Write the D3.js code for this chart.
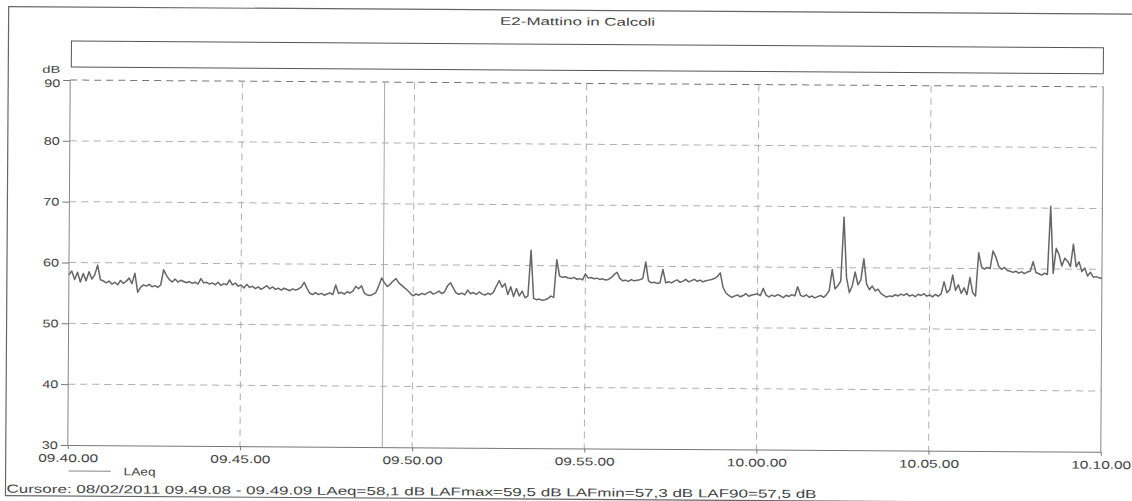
<!DOCTYPE html>
<html>
<head>
<meta charset="utf-8">
<script src="https://cdn.jsdelivr.net/npm/d3@7"></script>
<style>
  body { margin: 0; background: #fff; }
  text { font-family: "Liberation Sans", Arial, sans-serif; fill: #444; }
</style>
</head>
<body>
<div id="chart"></div>
<script>
// LAeq, one value every 5 s, one array per 5 minutes
const laeq0940 = [58.0,58.6,57.2,58.4,56.8,58.2,57.0,58.5,57.3,58.0,59.6,57.2,57.0,56.7,57.0,56.5,56.8,56.4,57.1,56.6,
  57.0,57.5,56.6,58.3,55.2,56.0,56.4,56.2,56.5,56.1,56.3,56.0,56.4,58.9,58.0,57.3,56.9,57.4,56.9,57.2,
  57.0,56.8,57.0,56.7,56.9,56.6,57.5,56.8,56.9,56.6,56.8,56.5,56.9,56.4,56.7,56.5,57.3,56.5,56.8,56.3];
const laeq0945 = [56.5,56.0,56.6,56.1,56.3,55.9,56.2,55.8,56.1,56.4,55.9,56.2,55.8,56.0,55.7,56.0,55.8,55.6,55.9,55.7,
  55.9,56.2,57.0,56.0,55.2,55.0,55.3,55.0,55.2,54.9,55.1,55.3,55.0,56.6,55.2,55.4,55.1,55.5,55.3,55.6,
  56.4,56.0,56.5,55.3,55.0,54.9,55.1,55.4,56.5,57.8,57.0,56.4,56.8,57.3,57.7,57.0,56.6,56.2,55.8,55.3];
const laeq0950 = [54.9,55.2,55.0,55.3,55.1,55.4,55.6,55.2,55.4,55.7,55.3,55.6,56.6,57.1,56.2,55.4,55.2,55.4,55.1,55.9,
  55.3,55.5,55.2,55.6,55.3,55.1,55.4,55.2,55.6,56.6,57.5,56.4,57.0,55.2,56.5,54.9,56.2,55.0,55.8,54.7,
  55.0,62.5,54.6,54.4,54.5,54.3,54.4,54.6,55.0,54.8,61.0,58.3,58.1,58.2,58.0,57.9,58.1,57.8,57.9,57.7];
const laeq0955 = [58.7,58.0,58.1,57.9,58.0,57.8,57.9,57.7,57.8,58.1,58.6,59.0,58.0,57.6,57.7,57.5,57.8,57.6,57.7,57.8,
  58.0,60.7,57.6,57.3,57.4,57.2,57.3,59.5,57.3,57.5,57.3,57.6,57.8,57.4,57.6,57.9,57.5,57.7,57.9,57.6,
  57.8,57.5,57.7,57.8,57.9,58.1,58.4,59.0,56.6,55.7,55.3,55.0,55.2,55.4,55.1,55.3,55.6,55.2,55.4,55.5];
const laeq1000 = [55.6,55.3,56.5,55.4,55.1,55.4,55.2,55.5,55.3,55.0,55.4,55.2,55.5,55.3,56.8,55.4,55.2,55.5,55.1,55.3,
  55.0,55.2,55.4,55.1,55.5,56.2,59.7,56.5,57.0,57.8,68.3,58.4,55.9,57.0,59.3,57.2,58.0,61.5,57.3,56.4,
  57.0,56.2,56.5,55.8,55.5,55.2,55.4,55.3,55.6,55.4,55.7,55.5,55.8,55.4,55.6,55.3,55.7,55.5,55.8,55.4];
const laeq1005 = [55.6,55.3,55.7,55.4,55.8,57.8,56.0,56.5,58.9,56.4,57.3,55.9,56.8,55.7,58.5,56.0,55.5,62.6,60.3,59.9,
  60.2,60.0,62.9,61.9,60.4,59.9,60.2,59.7,59.6,59.4,59.6,59.3,59.5,59.2,59.5,59.6,61.2,59.4,59.2,59.0,
  59.3,59.1,70.3,59.3,63.4,62.4,60.5,61.8,61.3,60.4,64.1,60.4,61.2,59.6,60.2,58.9,59.5,58.7,58.8,58.6,58.5];

const yTicks = [30, 40, 50, 60, 70, 80, 90];
const chartTitle = "E2-Mattino in Calcoli";
const seriesName = "LAeq";
const cursorText = "Cursore: 08/02/2011 09.49.08 - 09.49.09  LAeq=58,1 dB  LAFmax=59,5 dB  LAFmin=57,3 dB  LAF90=57,5 dB";
const cursorTime = new Date(2011, 1, 8, 9, 49, 8);
const startTime = new Date(2011, 1, 8, 9, 40, 0);
const endTime = new Date(2011, 1, 8, 10, 10, 0);

const values = [].concat(laeq0940, laeq0945, laeq0950, laeq0955, laeq1000, laeq1005);
const data = values.map((v, i) => ({ t: new Date(+startTime + i * 5000), v: v }));

// set the dimensions and margins of the graph
const W = 1132, H = 501;
const margin = {top: 80, right: 30, bottom: 56, left: 69},
    width = 1102 - margin.left,
    height = 445 - margin.top;

const svg = d3.select("#chart")
  .append("svg")
    .attr("width", W)
    .attr("height", H);

// the scan is slightly tilted
const page = svg.append("g")
    .attr("transform", "rotate(0.38, 69, 262)");

// outer frame
page.append("rect")
    .attr("x", 7).attr("y", 7)
    .attr("width", 1150).attr("height", 489)
    .attr("fill", "none").attr("stroke", "#666").attr("stroke-width", 1.2);

page.append("text")
    .attr("x", 576).attr("y", 22)
    .attr("text-anchor", "middle")
    .attr("font-size", 11)
    .attr("textLength", 155).attr("lengthAdjust", "spacingAndGlyphs")
    .text(chartTitle);

// empty legend box
page.append("rect")
    .attr("x", 70).attr("y", 41)
    .attr("width", 1032).attr("height", 26)
    .attr("fill", "none").attr("stroke", "#555").attr("stroke-width", 1);

const g = page.append("g")
    .attr("transform", `translate(${margin.left},${margin.top})`);

const x = d3.scaleTime()
    .domain([startTime, endTime])
    .range([0, width]);

const y = d3.scaleLinear()
    .domain([30, 90])
    .range([height, 0]);

const xTicks = d3.timeMinute.every(5).range(startTime, new Date(+endTime + 1));

// grid
g.append("g").selectAll("line")
  .data(yTicks.slice(1))
  .join("line")
    .attr("x1", 0).attr("x2", width)
    .attr("y1", d => y(d)).attr("y2", d => y(d))
    .attr("stroke", d => d === 90 ? "#777" : "#b0b0b0")
    .attr("stroke-dasharray", "7,5");
g.append("g").selectAll("line")
  .data(xTicks.slice(1, -1))
  .join("line")
    .attr("x1", d => x(d)).attr("x2", d => x(d))
    .attr("y1", 0).attr("y2", height)
    .attr("stroke", "#b0b0b0")
    .attr("stroke-dasharray", "7,5");

// cursor
g.append("line")
    .attr("x1", x(cursorTime)).attr("x2", x(cursorTime))
    .attr("y1", 0).attr("y2", height)
    .attr("stroke", "#aaa").attr("stroke-width", 1);

// frame of the plot
g.append("line").attr("x1", width).attr("x2", width).attr("y1", 0).attr("y2", height)
    .attr("stroke", "#888");
g.append("line").attr("x1", 0).attr("x2", 0).attr("y1", 0).attr("y2", height)
    .attr("stroke", "#888");

// axes
const xAxis = g.append("g")
    .attr("transform", `translate(0, ${height})`)
    .call(d3.axisBottom(x).tickValues(xTicks).tickFormat(d3.timeFormat("%H.%M.%S")).tickSize(4).tickSizeOuter(0));
xAxis.select(".domain").attr("stroke", "#777");
xAxis.selectAll(".tick line").attr("stroke", "#777");
xAxis.selectAll("text")
    .attr("font-size", 11)
    .attr("dy", "0.9em")
    .attr("textLength", 60).attr("lengthAdjust", "spacingAndGlyphs")
    .style("fill", "#444");

const yAxis = g.append("g")
    .call(d3.axisLeft(y).tickValues(yTicks).tickSize(7).tickSizeOuter(0));
yAxis.select(".domain").remove();
yAxis.selectAll(".tick line").attr("stroke", "#777");
yAxis.selectAll("text")
    .attr("font-size", 11)
    .attr("x", -10)
    .attr("dy", d => d === 90 ? "0.6em" : "0.32em")
    .attr("textLength", 16).attr("lengthAdjust", "spacingAndGlyphs")
    .style("fill", "#444");

g.append("text")
    .attr("x", -10).attr("y", -7)
    .attr("text-anchor", "end")
    .attr("font-size", 10)
    .attr("textLength", 18).attr("lengthAdjust", "spacingAndGlyphs")
    .text("dB");

// the LAeq line
g.append("path")
    .datum(data)
    .attr("fill", "none")
    .attr("stroke", "#666")
    .attr("stroke-width", 1.5)
    .attr("stroke-linejoin", "round")
    .attr("d", d3.line().x(d => x(d.t)).y(d => y(d.v)));

// legend below
page.append("line")
    .attr("x1", 70).attr("x2", 112).attr("y1", 471).attr("y2", 471)
    .attr("stroke", "#888").attr("stroke-width", 1);
page.append("text")
    .attr("x", 125).attr("y", 475)
    .attr("font-size", 11)
    .attr("textLength", 32).attr("lengthAdjust", "spacingAndGlyphs")
    .text(seriesName);

page.append("text")
    .attr("x", 8).attr("y", 493)
    .attr("font-size", 11.5)
    .attr("textLength", 810).attr("lengthAdjust", "spacingAndGlyphs")
    .text(cursorText);
</script>
</body>
</html>
